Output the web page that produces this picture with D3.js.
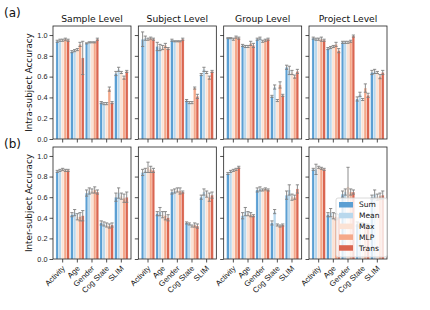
<!DOCTYPE html>
<html><head><meta charset="utf-8">
<script src="https://cdn.jsdelivr.net/npm/d3@7"></script>
<style>body{margin:0;background:#fff}svg{display:block;font-family:"DejaVu Sans",sans-serif}</style>
</head><body><svg id="c" width="430" height="310"></svg>
<script>
const categories = ["Activity","Age","Gender","Cog State","SLIM"];
const methods = ["Sum","Mean","Max","MLP","Trans"];
const levels = ["Sample Level","Subject Level","Group Level","Project Level"];
const rowLabels = ["Intra-subject Accuracy","Inter-subject Accuracy"];
const panelTags = ["(a)","(b)"];
const yTicks = [0,0.2,0.4,0.6,0.8,1.0];
const colors = ["#5b9fd3","#b9d8ed","#fbe2d4","#f5a98a","#da6651"];

// Intra-subject (row a): rows = categories, columns = methods
const intraSample  = [[0.94,0.95,0.95,0.96,0.95],[0.84,0.85,0.86,0.91,0.78],[0.92,0.93,0.93,0.93,0.96],[0.35,0.34,0.34,0.48,0.35],[0.63,0.67,0.64,0.59,0.65]];
const intraSubject = [[0.96,0.97,0.96,0.97,0.96],[0.89,0.88,0.88,0.90,0.87],[0.95,0.94,0.94,0.94,0.96],[0.37,0.35,0.35,0.49,0.41],[0.62,0.67,0.64,0.59,0.65]];
const intraGroup   = [[0.97,0.97,0.96,0.98,0.97],[0.90,0.89,0.89,0.92,0.90],[0.96,0.97,0.94,0.95,0.96],[0.41,0.50,0.37,0.52,0.42],[0.69,0.66,0.64,0.60,0.65]];
const intraProject = [[0.97,0.96,0.96,0.96,0.95],[0.87,0.88,0.89,0.91,0.85],[0.93,0.93,0.93,0.94,0.99],[0.385,0.43,0.38,0.49,0.42],[0.64,0.65,0.64,0.60,0.64]];
const intraSampleErr  = [[0.01,0.01,0.01,0.01,0.01],[0.01,0.01,0.01,0.02,0.16],[0.005,0.005,0.005,0.005,0.01],[0.01,0.01,0.01,0.02,0.01],[0.02,0.02,0.01,0.015,0.01]];
const intraSubjectErr = [[0.07,0.02,0.01,0.01,0.01],[0.04,0.03,0.02,0.02,0.01],[0.01,0.005,0.005,0.005,0.01],[0.01,0.01,0.01,0.01,0.02],[0.01,0.02,0.01,0.015,0.01]];
const intraGroupErr   = [[0.005,0.005,0.01,0.01,0.01],[0.01,0.01,0.01,0.02,0.02],[0.01,0.01,0.01,0.01,0.01],[0.01,0.02,0.01,0.03,0.01],[0.02,0.04,0.02,0.015,0.02]];
const intraProjectErr = [[0.01,0.01,0.01,0.02,0.01],[0.01,0.01,0.01,0.02,0.02],[0.01,0.01,0.01,0.01,0.01],[0.02,0.02,0.01,0.04,0.02],[0.02,0.02,0.01,0.02,0.02]];

// Inter-subject (row b)
const interSample  = [[0.85,0.86,0.87,0.86,0.86],[0.43,0.45,0.41,0.41,0.42],[0.64,0.66,0.66,0.67,0.65],[0.35,0.34,0.33,0.32,0.33],[0.60,0.64,0.61,0.59,0.60]];
const interSubject = [[0.84,0.86,0.89,0.87,0.86],[0.44,0.46,0.43,0.42,0.40],[0.65,0.66,0.67,0.66,0.65],[0.35,0.34,0.32,0.33,0.32],[0.60,0.65,0.63,0.60,0.62]];
const interGroup   = [[0.83,0.85,0.86,0.87,0.89],[0.42,0.46,0.44,0.43,0.42],[0.67,0.68,0.67,0.68,0.67],[0.35,0.46,0.33,0.32,0.33],[0.62,0.67,0.60,0.60,0.68]];
const interProject = [[0.87,0.87,0.89,0.88,0.87],[0.43,0.45,0.42,0.41,0.41],[0.63,0.65,0.70,0.65,0.65],[0.34,0.33,0.33,0.32,0.32],[0.60,0.63,0.60,0.61,0.62]];
const interSampleErr  = [[0.01,0.01,0.01,0.01,0.01],[0.02,0.03,0.03,0.04,0.05],[0.03,0.03,0.02,0.03,0.02],[0.02,0.02,0.02,0.02,0.02],[0.04,0.05,0.03,0.04,0.05]];
const interSubjectErr = [[0.03,0.02,0.05,0.03,0.02],[0.02,0.04,0.03,0.04,0.03],[0.02,0.02,0.02,0.03,0.01],[0.01,0.01,0.01,0.02,0.02],[0.02,0.03,0.03,0.04,0.03]];
const interGroupErr   = [[0.01,0.01,0.01,0.01,0.01],[0.03,0.04,0.02,0.02,0.01],[0.02,0.02,0.01,0.01,0.01],[0.02,0.02,0.01,0.01,0.01],[0.04,0.05,0.03,0.02,0.04]];
const interProjectErr = [[0.01,0.05,0.01,0.01,0.01],[0.02,0.04,0.03,0.03,0.02],[0.03,0.03,0.19,0.03,0.02],[0.02,0.02,0.02,0.02,0.02],[0.02,0.04,0.03,0.03,0.04]];

const rows = [
  {vals:[intraSample,intraSubject,intraGroup,intraProject], errs:[intraSampleErr,intraSubjectErr,intraGroupErr,intraProjectErr], top:26, bottom:139},
  {vals:[interSample,interSubject,interGroup,interProject], errs:[interSampleErr,interSubjectErr,interGroupErr,interProjectErr], top:147, bottom:259}
];

const svg = d3.select("#c");
const px = d3.scaleBand().domain(levels).range([53,387]).paddingInner(0.086);
const pw = px.bandwidth();
const cx = d3.scaleBand().domain(categories).range([0,pw]).paddingInner(0).paddingOuter(0.16);
const mx = d3.scaleBand().domain(methods).range([-cx.bandwidth()*0.46, cx.bandwidth()*0.46]);

rows.forEach((row, ri) => {
  const y = d3.scaleLinear().domain([0,1.087]).range([row.bottom, row.top]);
  levels.forEach((lv, li) => {
    const g = svg.append("g").attr("transform", `translate(${px(lv)},0)`);
    const data = row.vals[li], err = row.errs[li];
    categories.forEach((c, ci) => {
      methods.forEach((m, mi) => {
        const v = data[ci][mi];
        const x0 = cx(c) + cx.bandwidth()/2 + mx(m);
        g.append("rect").attr("x", x0).attr("width", mx.bandwidth())
          .attr("y", y(v)).attr("height", y(0)-y(v))
          .attr("fill", colors[mi]).attr("stroke","#fff").attr("stroke-width",0.3);
      });
    });
    categories.forEach((c, ci) => {
      methods.forEach((m, mi) => {
        const v = data[ci][mi], e = err[ci][mi];
        const xc = cx(c) + cx.bandwidth()/2 + mx(m) + mx.bandwidth()/2;
        const eg = g.append("g").attr("stroke","#808080").attr("stroke-width",0.9);
        eg.append("line").attr("x1",xc).attr("x2",xc).attr("y1",y(v-e)).attr("y2",y(v+e));
        eg.append("line").attr("x1",xc-1.6).attr("x2",xc+1.6).attr("y1",y(v-e)).attr("y2",y(v-e));
        eg.append("line").attr("x1",xc-1.6).attr("x2",xc+1.6).attr("y1",y(v+e)).attr("y2",y(v+e));
      });
    });
    const ya = d3.axisLeft(y).tickValues(yTicks).tickSize(3.5).tickPadding(2)
      .tickFormat(li===0 ? d3.format(".1f") : "");
    const yg = g.append("g").call(ya);
    yg.select(".domain").remove();
    yg.selectAll("line").attr("stroke","#222").attr("stroke-width",0.8);
    yg.selectAll("text").attr("font-size",7.3).attr("fill","#222");
    const xa = d3.axisBottom(cx).tickSize(3.5).tickPadding(0).tickFormat(ri===1 ? d=>d : "");
    const xg = g.append("g").attr("transform",`translate(0,${row.bottom})`).call(xa);
    xg.select(".domain").remove();
    xg.selectAll("line").attr("stroke","#222").attr("stroke-width",0.8);
    xg.selectAll("text").attr("font-size",7.8).attr("fill","#222")
      .attr("text-anchor","end").attr("y",0).attr("dy","0.35em")
      .attr("transform","translate(1,8) rotate(-45)");
    g.append("rect").attr("x",0).attr("y",row.top).attr("width",pw).attr("height",row.bottom-row.top)
      .attr("fill","none").attr("stroke","#222").attr("stroke-width",0.8);
    if (ri===0) {
      g.append("text").attr("x",pw/2).attr("y",row.top-4).attr("text-anchor","middle")
        .attr("font-size",9.2).attr("fill","#111").text(lv);
    }
  });
  svg.append("text").attr("transform",`translate(32,${(row.top+row.bottom)/2}) rotate(-90)`)
    .attr("text-anchor","middle").attr("font-size",8.8).attr("fill","#111").text(rowLabels[ri]);
  svg.append("text").attr("x",4).attr("y", ri===0 ? 17 : 148).attr("font-size",12).attr("fill","#111").text(panelTags[ri]);
});

const lg = svg.append("g").attr("transform","translate(336,198)");
lg.append("rect").attr("width",51).attr("height",59).attr("rx",2)
  .attr("fill","#fff").attr("fill-opacity",0.8).attr("stroke","#d0d0d0").attr("stroke-width",0.8);
methods.forEach((m,i)=>{
  lg.append("rect").attr("x",3).attr("y",4+i*10.8).attr("width",14).attr("height",5.5).attr("fill",colors[i]);
  lg.append("text").attr("x",23).attr("y",6.75+i*10.8).attr("dy","0.35em").attr("font-size",7.5).attr("fill","#111").text(m);
});
</script></body></html>
